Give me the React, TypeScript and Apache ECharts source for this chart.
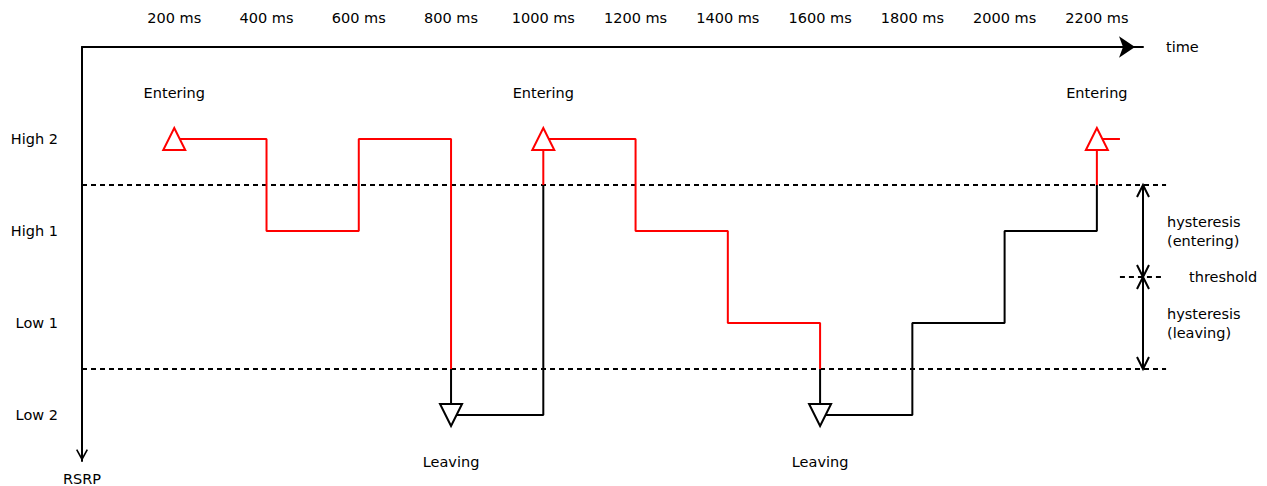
import React, { useEffect, useRef } from 'react';
import * as echarts from 'echarts';

// ---- data ----
const levelNames = ['Low 2', 'Low 1', 'High 1', 'High 2'];
const sampleTimes = [200, 400, 600, 800, 1000, 1200, 1400, 1600, 1800, 2000, 2200, 2250];
const sampleLevels = [3, 2, 3, 0, 3, 2, 1, 0, 1, 2, 3, 3];
const enteringTimes = [200, 1000, 2200];
const leavingTimes = [800, 1600];
const enteringThreshold = 2.5;
const leavingThreshold = 0.5;
const threshold = 1.5;
const timeMax = 2300;
const timeStep = 200;
const lastTickTime = 2200;
const guideEnd = 2350;
const thresholdMarkSpan = [2250, 2340];
const hysteresisTime = 2300;
const guideLines = [
  [0, guideEnd, enteringThreshold],
  [0, guideEnd, leavingThreshold],
  [thresholdMarkSpan[0], thresholdMarkSpan[1], threshold],
];
const annotations = [
  { text: 'hysteresis\n(entering)', level: (enteringThreshold + threshold) / 2, kind: 'hyst' },
  { text: 'threshold', level: threshold, kind: 'thr' },
  { text: 'hysteresis\n(leaving)', level: (leavingThreshold + threshold) / 2, kind: 'hyst' },
];

const FONT = 'DejaVu Sans';
const FS = 14.5;
const RED = '#ff0000';
const BLACK = '#000000';

function levelAt(t: number): number {
  return sampleLevels[sampleTimes.indexOf(t)];
}

// split the step trace into red (entered) and black (left) pieces
function buildTrace() {
  const verts: number[][] = [];
  for (let i = 0; i < sampleTimes.length; i++) {
    verts.push([sampleTimes[i], sampleLevels[i]]);
    if (i < sampleTimes.length - 1) verts.push([sampleTimes[i + 1], sampleLevels[i]]);
  }
  const pieces: { state: 'in' | 'out'; pts: number[][] }[] = [];
  let state: 'in' | 'out' = 'in';
  let cur: number[][] = [verts[0]];
  for (let k = 1; k < verts.length; k++) {
    const a = verts[k - 1];
    const b = verts[k];
    if (a[0] === b[0]) {
      if (state === 'out' && a[1] < enteringThreshold && b[1] >= enteringThreshold) {
        const c = [a[0], enteringThreshold];
        cur.push(c);
        pieces.push({ state, pts: cur });
        state = 'in';
        cur = [c];
      } else if (state === 'in' && a[1] > leavingThreshold && b[1] <= leavingThreshold) {
        const c = [a[0], leavingThreshold];
        cur.push(c);
        pieces.push({ state, pts: cur });
        state = 'out';
        cur = [c];
      }
    }
    cur.push(b);
  }
  pieces.push({ state, pts: cur });
  return pieces;
}

const chevronUp =
  'path://M6,0 L12,11 L10.6,11.8 L6,3.4 L1.4,11.8 L0,11 Z M5,0 L7,0 L7,12 L5,12 Z';

export default function App() {
  const ref = useRef<HTMLDivElement>(null);
  useEffect(() => {
    if (!ref.current) return;
    const chart = echarts.init(ref.current, null, { renderer: 'svg' });
    const txt = { color: BLACK, fontSize: FS, fontFamily: FONT };

    const traceSeries = buildTrace().map((p, i) => ({
      type: 'line',
      name: 'trace' + i,
      data: p.pts,
      symbol: 'none',
      clip: false,
      z: 3,
      lineStyle: { color: p.state === 'in' ? RED : BLACK, width: 2 },
    }));

    const option: any = {
      animation: false,
      textStyle: { fontFamily: FONT },
      grid: { left: 82, right: 124, top: 47, bottom: 25, containLabel: false },
      xAxis: {
        type: 'value',
        position: 'top',
        min: 0,
        max: timeMax,
        interval: timeStep,
        name: 'time',
        nameLocation: 'end',
        nameGap: 23,
        nameTextStyle: { ...txt, align: 'left', verticalAlign: 'middle' },
        axisLine: {
          show: true,
          onZero: false,
          symbol: ['none', 'arrow'],
          symbolSize: [16, 16],
          symbolOffset: [0, -8],
          lineStyle: { color: BLACK, width: 2 },
        },
        axisTick: { show: false },
        splitLine: { show: false },
        axisLabel: {
          ...txt,
          margin: 22,
          formatter: (v: number) =>
            v > 0 && v <= lastTickTime && v % timeStep === 0 ? `${v} ms` : '',
        },
      },
      yAxis: {
        type: 'value',
        min: -0.5,
        max: 4,
        interval: 0.5,
        name: 'RSRP',
        nameLocation: 'start',
        nameGap: 10,
        nameTextStyle: { ...txt },
        axisLine: {
          show: true,
          onZero: false,
          symbol: [chevronUp, 'none'],
          symbolSize: [12, 12],
          symbolOffset: [6, 0],
          lineStyle: { color: BLACK, width: 2 },
        },
        axisTick: { show: false },
        splitLine: { show: false },
        axisLabel: {
          ...txt,
          margin: 24,
          formatter: (v: number) =>
            Number.isInteger(v) && v >= 0 && v < levelNames.length ? levelNames[v] : '',
        },
      },
      series: [
        {
          type: 'custom',
          name: 'guides',
          z: 2,
          data: guideLines,
          renderItem: (params: any, api: any) => {
            const p1 = api.coord([api.value(0), api.value(2)]);
            const p2 = api.coord([api.value(1), api.value(2)]);
            return {
              type: 'line',
              shape: { x1: p1[0], y1: p1[1], x2: p2[0], y2: p2[1] },
              style: { stroke: BLACK, lineWidth: 2, lineDash: [5, 4] },
            };
          },
        },
        ...traceSeries,
        {
          type: 'scatter',
          name: 'Entering',
          data: enteringTimes.map((t) => [t, levelAt(t)]),
          symbol: 'triangle',
          symbolSize: [22, 22],
          z: 5,
          itemStyle: { color: '#ffffff', borderColor: RED, borderWidth: 2, opacity: 1 },
          label: { show: true, position: 'inside', offset: [0, -46], formatter: 'Entering', ...txt },
        },
        {
          type: 'scatter',
          name: 'Leaving',
          data: leavingTimes.map((t) => [t, levelAt(t)]),
          symbol: 'triangle',
          symbolRotate: 180,
          symbolSize: [22, 22],
          z: 5,
          itemStyle: { color: '#ffffff', borderColor: BLACK, borderWidth: 2, opacity: 1 },
          label: { show: true, position: 'inside', offset: [0, 47], formatter: 'Leaving', ...txt },
        },
        {
          type: 'custom',
          name: 'hysteresis',
          z: 4,
          data: [
            [hysteresisTime, enteringThreshold, threshold],
            [hysteresisTime, threshold, leavingThreshold],
          ],
          renderItem: (params: any, api: any) => {
            const x = api.value(0);
            const p1 = api.coord([x, api.value(1)]);
            const p2 = api.coord([x, api.value(2)]);
            const d = p2[1] > p1[1] ? 1 : -1;
            const head = (p: number[], s: number) => ({
              type: 'polyline',
              shape: { points: [[p[0] - 6, p[1] + s * 12], [p[0], p[1]], [p[0] + 6, p[1] + s * 12]] },
              style: { stroke: BLACK, lineWidth: 2, fill: null },
            });
            return {
              type: 'group',
              children: [
                {
                  type: 'line',
                  shape: { x1: p1[0], y1: p1[1], x2: p2[0], y2: p2[1] },
                  style: { stroke: BLACK, lineWidth: 2 },
                },
                head(p1, d),
                head(p2, -d),
              ],
            };
          },
        },
        {
          type: 'custom',
          name: 'notes',
          z: 4,
          data: annotations.map((a) => [hysteresisTime, a.level]),
          renderItem: (params: any, api: any) => {
            const a = annotations[params.dataIndex];
            const p = api.coord([api.value(0), api.value(1)]);
            return {
              type: 'text',
              x: p[0] + (a.kind === 'thr' ? 46 : 24),
              y: p[1],
              style: {
                text: a.text,
                fill: BLACK,
                fontSize: FS,
                fontFamily: FONT,
                align: 'left',
                verticalAlign: 'middle',
                lineHeight: 19,
              },
            };
          },
        },
      ],
    };
    chart.setOption(option);
    return () => chart.dispose();
  }, []);
  return (
    <div
      ref={ref}
      style={{ position: 'fixed', left: 0, top: 0, width: 1267, height: 486, background: '#fff' }}
    />
  );
}
